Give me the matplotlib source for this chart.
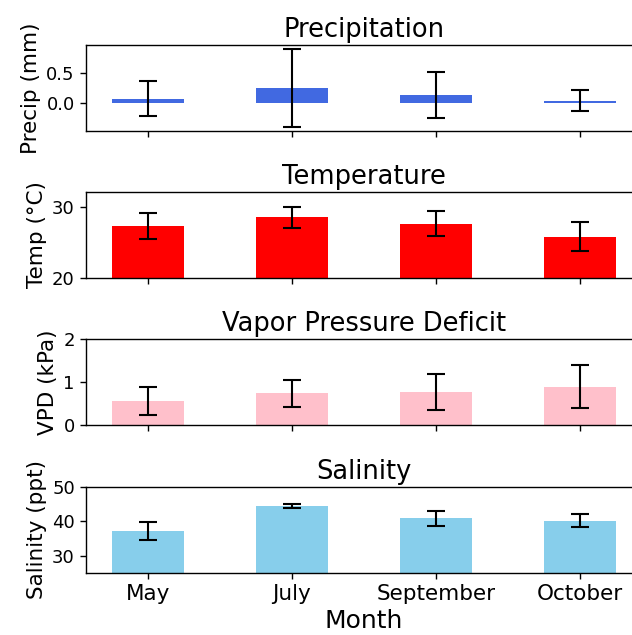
import matplotlib.pyplot as plt
import numpy as np

months = ['May', 'July', 'September', 'October']

precip_mean = [0.065, 0.25, 0.13, 0.035]
precip_std = [0.295, 0.66, 0.39, 0.18]

temp_mean = [27.3, 28.5, 27.6, 25.75]
temp_std = [1.9, 1.5, 1.78, 2.05]

vpd_mean = [0.565, 0.74, 0.76, 0.89]
vpd_std = [0.325, 0.32, 0.42, 0.5]

sal_mean = [37.2, 44.4, 40.85, 40.2]
sal_std = [2.7, 0.6, 2.15, 1.95]

panels = [
    ('Precipitation', 'Precip (mm)', precip_mean, precip_std, 'royalblue', None),
    ('Temperature', 'Temp (°C)', temp_mean, temp_std, 'red', (20, 32.1)),
    ('Vapor Pressure Deficit', 'VPD (kPa)', vpd_mean, vpd_std, 'pink', (0, 2)),
    ('Salinity', 'Salinity (ppt)', sal_mean, sal_std, 'skyblue', (25, 50)),
]

fig = plt.figure(figsize=(6.32, 6.35), dpi=100)
bottoms = [0.794, 0.5627, 0.3307, 0.0981]
x = np.arange(len(months))

for i, (title, ylab, mean, std, color, ylim) in enumerate(panels):
    ax = fig.add_axes([0.136, bottoms[i], 0.88, 0.135])
    ax.bar(x, mean, width=0.5, color=color)
    ax.errorbar(x, mean, yerr=std, fmt='none', ecolor='black',
                elinewidth=1.5, capsize=6.5, capthick=1.5)
    ax.set_xlim(-0.43, 3.43)
    if ylim is not None:
        ax.set_ylim(*ylim)
    ax.set_title(title, fontsize=18.5, pad=6)
    ax.set_ylabel(ylab, fontsize=15.5, labelpad=4)
    ax.set_xticks(x)
    ax.tick_params(axis='y', labelsize=13, length=4.5, width=1)
    ax.tick_params(axis='x', labelsize=15.5, length=4.5, width=1)
    for s in ax.spines.values():
        s.set_linewidth(1.0)
    if i < 3:
        ax.set_xticklabels([])
    else:
        ax.set_xticklabels(months)
        ax.set_xlabel('Month', fontsize=18, labelpad=4)

    if i == 0:
        ax.set_yticks([0.0, 0.5])
    elif i == 1:
        ax.set_yticks([20, 30])
    elif i == 2:
        ax.set_yticks([0, 1, 2])
    else:
        ax.set_yticks([30, 40, 50])

fig.savefig('out.png', dpi=100)
